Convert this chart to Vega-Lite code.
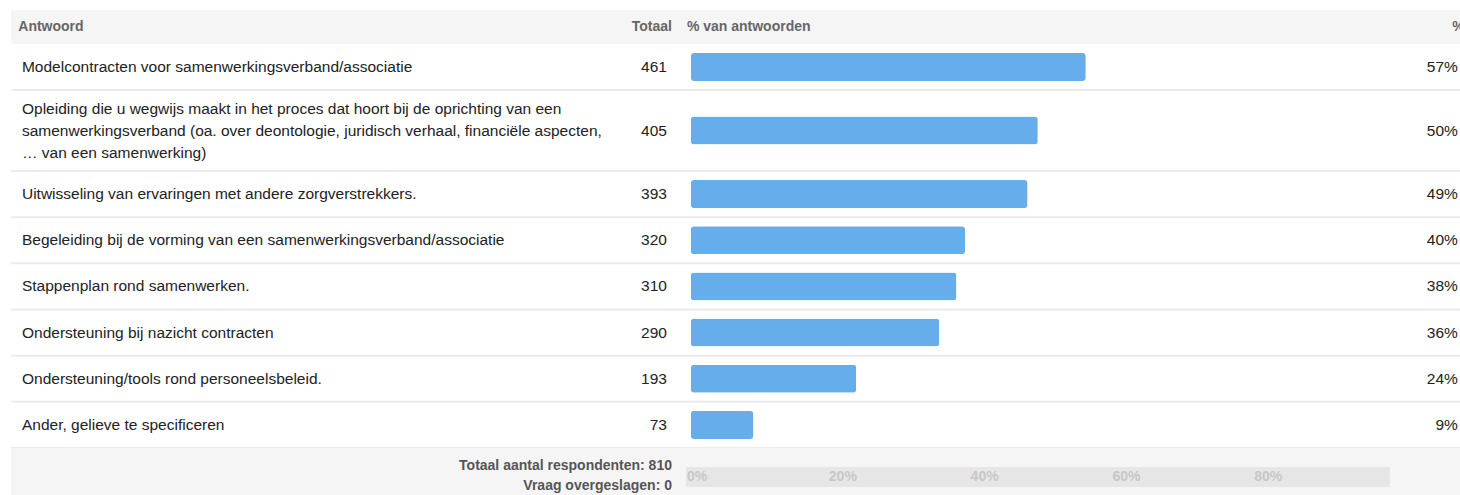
{
  "$schema": "https://vega.github.io/schema/vega-lite/v6.json",
  "padding": {"left": 10, "top": 10, "right": 0, "bottom": 0},
  "spacing": 0,
  "bounds": "flush",
  "config": {"view": {"stroke": null}, "font": "Liberation Sans"},
  "datasets": {
    "answers": [
      {"rank": 1, "antwoord": "Modelcontracten voor samenwerkingsverband/associatie", "totaal": 461, "share": 0.5691},
      {"rank": 2, "antwoord": "Opleiding die u wegwijs maakt in het proces dat hoort bij de oprichting van een\nsamenwerkingsverband (oa. over deontologie, juridisch verhaal, financiële aspecten,\n… van een samenwerking)", "totaal": 405, "share": 0.5},
      {"rank": 3, "antwoord": "Uitwisseling van ervaringen met andere zorgverstrekkers.", "totaal": 393, "share": 0.4852},
      {"rank": 4, "antwoord": "Begeleiding bij de vorming van een samenwerkingsverband/associatie", "totaal": 320, "share": 0.3951},
      {"rank": 5, "antwoord": "Stappenplan rond samenwerken.", "totaal": 310, "share": 0.3827},
      {"rank": 6, "antwoord": "Ondersteuning bij nazicht contracten", "totaal": 290, "share": 0.358},
      {"rank": 7, "antwoord": "Ondersteuning/tools rond personeelsbeleid.", "totaal": 193, "share": 0.2383},
      {"rank": 8, "antwoord": "Ander, gelieve te specificeren", "totaal": 73, "share": 0.0901}
    ],
    "ticks": [{"v": 0}, {"v": 0.2}, {"v": 0.4}, {"v": 0.6}, {"v": 0.8}]
  },
  "resolve": {"scale": {"x": "independent", "y": "independent"}},
  "vconcat": [
    {
      "width": 1450, "height": 34,
      "view": {"fill": "#f5f5f5", "stroke": null},
      "data": {"values": [{}]},
      "layer": [
        {"mark": {"type": "text", "align": "left", "baseline": "middle", "fontSize": 14, "fontWeight": "bold", "color": "#666666"},
         "encoding": {"x": {"datum": -0.9695, "type": "quantitative", "scale": {"domain": [-0.98, 1.11], "zero": false, "nice": false}, "axis": null}, "text": {"value": "Antwoord"}}},
        {"mark": {"type": "text", "align": "right", "baseline": "middle", "fontSize": 14, "fontWeight": "bold", "color": "#666666"},
         "encoding": {"x": {"datum": -0.0274, "type": "quantitative"}, "text": {"value": "Totaal"}}},
        {"mark": {"type": "text", "align": "left", "baseline": "middle", "fontSize": 14, "fontWeight": "bold", "color": "#666666"},
         "encoding": {"x": {"datum": -0.0058, "type": "quantitative"}, "text": {"value": "% van antwoorden"}}},
        {"mark": {"type": "text", "align": "right", "baseline": "middle", "fontSize": 14, "fontWeight": "bold", "color": "#666666", "clip": true},
         "encoding": {"x": {"datum": 1.1155, "type": "quantitative"}, "text": {"value": "%"}}}
      ]
    },
    {
      "width": 1450, "height": 46,
      "data": {"name": "answers"},
      "transform": [{"filter": "datum.rank == 1"}],
      "encoding": {"y": {"field": "antwoord", "type": "nominal", "sort": null, "axis": null, "scale": {"paddingInner": 0, "paddingOuter": 0}}},
      "layer": [
        {"mark": {"type": "rule", "color": "#ebebeb", "strokeWidth": 2},
         "encoding": {"y": {"field": "antwoord", "type": "nominal", "sort": null, "axis": null, "bandPosition": 1}}},
        {"mark": {"type": "bar", "height": 28, "cornerRadius": 3, "color": "#66adeb"},
         "encoding": {"x": {"field": "share", "type": "quantitative", "scale": {"domain": [-0.98, 1.11], "zero": false, "nice": false}, "axis": null}}},
        {"mark": {"type": "text", "align": "left", "baseline": "middle", "fontSize": 15.5, "color": "#222222"},
         "encoding": {"x": {"datum": -0.9642, "type": "quantitative"}, "text": {"field": "antwoord"}}},
        {"mark": {"type": "text", "align": "right", "baseline": "middle", "fontSize": 15.5, "color": "#222222"},
         "encoding": {"x": {"datum": -0.0346, "type": "quantitative"}, "text": {"field": "totaal", "type": "quantitative"}}},
        {"mark": {"type": "text", "align": "right", "baseline": "middle", "fontSize": 15.5, "color": "#222222"},
         "encoding": {"x": {"datum": 1.1055, "type": "quantitative"}, "text": {"field": "share", "type": "quantitative", "format": ".0%"}}}
      ]
    },
    {
      "width": 1450, "height": 81,
      "data": {"name": "answers"},
      "transform": [{"filter": "datum.rank == 2"}],
      "encoding": {"y": {"field": "antwoord", "type": "nominal", "sort": null, "axis": null, "scale": {"paddingInner": 0, "paddingOuter": 0}}},
      "layer": [
        {"mark": {"type": "rule", "color": "#ebebeb", "strokeWidth": 2},
         "encoding": {"y": {"field": "antwoord", "type": "nominal", "sort": null, "axis": null, "bandPosition": 1}}},
        {"mark": {"type": "bar", "height": 28, "cornerRadius": 3, "color": "#66adeb"},
         "encoding": {"x": {"field": "share", "type": "quantitative", "scale": {"domain": [-0.98, 1.11], "zero": false, "nice": false}, "axis": null}}},
        {"mark": {"type": "text", "align": "left", "baseline": "middle", "fontSize": 15.5, "color": "#222222", "lineBreak": "\n", "lineHeight": 22, "dy": -22},
         "encoding": {"x": {"datum": -0.9642, "type": "quantitative"}, "text": {"field": "antwoord"}}},
        {"mark": {"type": "text", "align": "right", "baseline": "middle", "fontSize": 15.5, "color": "#222222"},
         "encoding": {"x": {"datum": -0.0346, "type": "quantitative"}, "text": {"field": "totaal", "type": "quantitative"}}},
        {"mark": {"type": "text", "align": "right", "baseline": "middle", "fontSize": 15.5, "color": "#222222"},
         "encoding": {"x": {"datum": 1.1055, "type": "quantitative"}, "text": {"field": "share", "type": "quantitative", "format": ".0%"}}}
      ]
    },
    {
      "width": 1450, "height": 277,
      "data": {"name": "answers"},
      "transform": [{"filter": "datum.rank >= 3"}],
      "encoding": {"y": {"field": "antwoord", "type": "nominal", "sort": null, "axis": null, "scale": {"paddingInner": 0, "paddingOuter": 0}}},
      "layer": [
        {"mark": {"type": "rule", "color": "#ebebeb", "strokeWidth": 2},
         "encoding": {"y": {"field": "antwoord", "type": "nominal", "sort": null, "axis": null, "bandPosition": 1}}},
        {"mark": {"type": "bar", "height": 28, "cornerRadius": 3, "color": "#66adeb"},
         "encoding": {"x": {"field": "share", "type": "quantitative", "scale": {"domain": [-0.98, 1.11], "zero": false, "nice": false}, "axis": null}}},
        {"mark": {"type": "text", "align": "left", "baseline": "middle", "fontSize": 15.5, "color": "#222222"},
         "encoding": {"x": {"datum": -0.9642, "type": "quantitative"}, "text": {"field": "antwoord"}}},
        {"mark": {"type": "text", "align": "right", "baseline": "middle", "fontSize": 15.5, "color": "#222222"},
         "encoding": {"x": {"datum": -0.0346, "type": "quantitative"}, "text": {"field": "totaal", "type": "quantitative"}}},
        {"mark": {"type": "text", "align": "right", "baseline": "middle", "fontSize": 15.5, "color": "#222222"},
         "encoding": {"x": {"datum": 1.1055, "type": "quantitative"}, "text": {"field": "share", "type": "quantitative", "format": ".0%"}}}
      ]
    },
    {
      "width": 1450, "height": 47,
      "view": {"fill": "#f5f5f5", "stroke": null},
      "layer": [
        {"data": {"values": [{"k": "axis"}]},
         "mark": {"type": "bar", "color": "#e6e6e6"},
         "encoding": {
           "x": {"datum": -0.0014, "type": "quantitative", "scale": {"domain": [-0.9535, 1.0917], "zero": false, "nice": false}, "axis": null},
           "x2": {"datum": 0.9915},
           "y": {"field": "k", "type": "nominal", "axis": null, "scale": {"paddingInner": 0, "paddingOuter": 0.675, "align": 0.704}}}},
        {"data": {"name": "ticks"},
         "mark": {"type": "text", "align": "left", "baseline": "middle", "fontSize": 14, "fontWeight": "bold", "color": "#c8c8c8", "dy": 5},
         "encoding": {"x": {"field": "v", "type": "quantitative"}, "text": {"field": "v", "type": "quantitative", "format": ".0%"}}},
        {"data": {"values": [{}]},
         "mark": {"type": "text", "align": "right", "baseline": "middle", "fontSize": 14, "fontWeight": "bold", "color": "#555555", "lineBreak": "\n", "lineHeight": 20, "dy": -5.5},
         "encoding": {"x": {"datum": -0.0212, "type": "quantitative"}, "text": {"value": "Totaal aantal respondenten: 810\nVraag overgeslagen: 0"}}}
      ]
    }
  ]
}
